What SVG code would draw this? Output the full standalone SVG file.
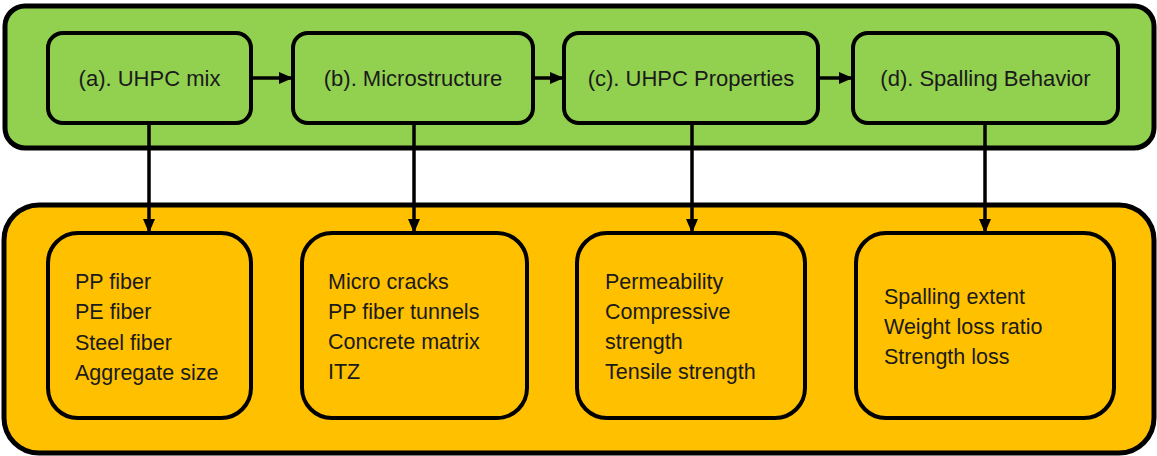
<svg xmlns="http://www.w3.org/2000/svg" width="1157" height="456" viewBox="0 0 1157 456">
<style>
.outer{stroke:#000;stroke-width:5}
.green{fill:#92D050}
.orange{fill:#FFC000}
.box{stroke:#000;stroke-width:4}
.title{font-family:"Liberation Sans",Arial,sans-serif;font-size:22px;fill:#1a1a1a;text-anchor:middle}
.item{font-family:"Liberation Sans",Arial,sans-serif;font-size:21.5px;fill:#1a1a1a}
.conn{stroke:#000;stroke-width:3.5;fill:none}
</style>
<defs>
<marker id="ah" markerUnits="userSpaceOnUse" markerWidth="14" markerHeight="14" viewBox="0 0 14 14" refX="14" refY="7" orient="auto">
<path d="M0,1 L14,7 L0,13 Z" fill="#000"/>
</marker>
</defs>
<g id="stage-top">
<rect class="outer green" x="5" y="6" width="1149" height="142" rx="20"/>
</g>
<g id="stage-bottom">
<rect class="outer orange" x="4" y="205" width="1150" height="248" rx="35"/>
</g>
<g id="node-a">
<rect class="box green" x="48" y="33" width="203" height="90" rx="15"/>
<text class="title" x="149.5" y="86">(a). UHPC mix</text>
</g>
<g id="node-b">
<rect class="box green" x="293" y="33" width="240" height="90" rx="15"/>
<text class="title" x="413" y="86">(b). Microstructure</text>
</g>
<g id="node-c">
<rect class="box green" x="564" y="33" width="254" height="90" rx="15"/>
<text class="title" x="691" y="86">(c). UHPC Properties</text>
</g>
<g id="node-d">
<rect class="box green" x="853" y="33" width="265" height="90" rx="15"/>
<text class="title" x="985.5" y="86">(d). Spalling Behavior</text>
</g>
<g id="detail-a">
<rect class="box orange" x="48" y="233" width="203" height="185" rx="30"/>
<text class="item" x="75" y="289">PP fiber</text>
<text class="item" x="75" y="319">PE fiber</text>
<text class="item" x="75" y="350">Steel fiber</text>
<text class="item" x="75" y="380">Aggregate size</text>
</g>
<g id="detail-b">
<rect class="box orange" x="302" y="233" width="225" height="185" rx="30"/>
<text class="item" x="328" y="289">Micro cracks</text>
<text class="item" x="328" y="319">PP fiber tunnels</text>
<text class="item" x="328" y="349">Concrete matrix</text>
<text class="item" x="328" y="379">ITZ</text>
</g>
<g id="detail-c">
<rect class="box orange" x="577" y="233" width="228" height="185" rx="30"/>
<text class="item" x="605" y="289">Permeability</text>
<text class="item" x="605" y="319">Compressive</text>
<text class="item" x="605" y="349">strength</text>
<text class="item" x="605" y="379">Tensile strength</text>
</g>
<g id="detail-d">
<rect class="box orange" x="856" y="233" width="258" height="185" rx="30"/>
<text class="item" x="884" y="304">Spalling extent</text>
<text class="item" x="884" y="334">Weight loss ratio</text>
<text class="item" x="884" y="364">Strength loss</text>
</g>
<g id="connectors">
<line class="conn" x1="251" y1="78" x2="293" y2="78" marker-end="url(#ah)"/>
<line class="conn" x1="533" y1="78" x2="564" y2="78" marker-end="url(#ah)"/>
<line class="conn" x1="818" y1="78" x2="853" y2="78" marker-end="url(#ah)"/>
<line class="conn" x1="149" y1="123" x2="149" y2="233" marker-end="url(#ah)"/>
<line class="conn" x1="414" y1="123" x2="414" y2="233" marker-end="url(#ah)"/>
<line class="conn" x1="692" y1="123" x2="692" y2="233" marker-end="url(#ah)"/>
<line class="conn" x1="985" y1="123" x2="985" y2="233" marker-end="url(#ah)"/>
</g>
</svg>
